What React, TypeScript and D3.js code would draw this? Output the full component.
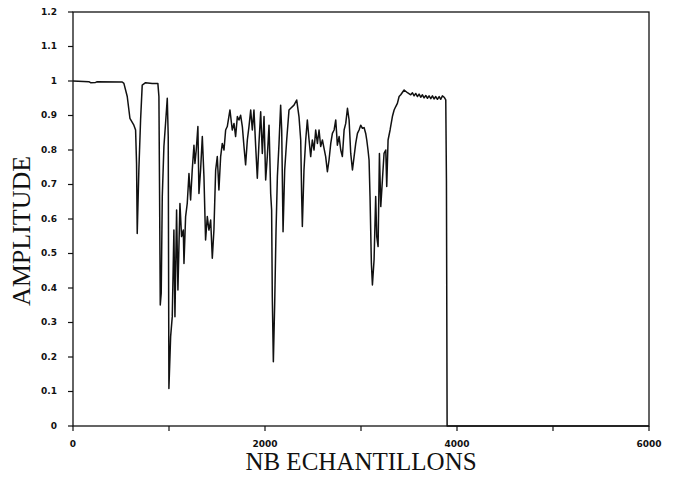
import * as d3 from "d3";

// sample index (NB ECHANTILLONS) and amplitude
const samples = [
  0, 165, 183, 235, 252, 513, 530, 565, 593, 634, 652, 662, 669, 686, 704, 721, 756, 825, 884,
  895, 902, 909, 919, 930, 947, 964, 982, 992, 999, 1017, 1034, 1051, 1062, 1079, 1093, 1114,
  1131, 1149, 1156, 1173, 1190, 1208, 1225, 1242, 1260, 1270, 1284, 1301, 1312, 1329, 1347,
  1364, 1381, 1399, 1416, 1434, 1451, 1468, 1486, 1503, 1520, 1538, 1555, 1573, 1590, 1607,
  1635, 1659, 1677, 1694, 1712, 1729, 1746, 1764, 1781, 1798, 1816, 1833, 1851, 1868, 1885,
  1903, 1920, 1937, 1955, 1972, 1990, 2007, 2024, 2042, 2052, 2059, 2069, 2076, 2087, 2101,
  2115, 2129, 2146, 2163, 2174, 2188, 2205, 2226, 2250, 2268, 2302, 2330, 2354, 2372, 2382,
  2389, 2406, 2424, 2441, 2459, 2476, 2493, 2511, 2528, 2546, 2563, 2580, 2598, 2615, 2632,
  2650, 2667, 2685, 2702, 2720, 2737, 2754, 2772, 2789, 2806, 2824, 2841, 2859, 2876, 2893,
  2911, 2928, 2945, 2963, 2980, 2997, 3015, 3032, 3049, 3060, 3073, 3084, 3094, 3108, 3119,
  3136, 3153, 3164, 3178, 3192, 3206, 3223, 3240, 3258, 3268, 3282, 3303, 3327, 3345, 3362,
  3379, 3397, 3414, 3449, 3484, 3518, 3536, 3553, 3570, 3588, 3605, 3622, 3640, 3657, 3675,
  3692, 3709, 3727, 3744, 3761, 3779, 3796, 3814, 3831, 3848, 3866, 3883, 3890, 3897, 4200,
  6000,
];

const amplitude = [
  1.0, 0.998, 0.995, 0.996, 0.998, 0.997, 0.993, 0.955, 0.892, 0.872, 0.858, 0.761, 0.558,
  0.742, 0.887, 0.988, 0.995, 0.993, 0.993, 0.955, 0.665, 0.351, 0.385, 0.665, 0.81, 0.877,
  0.95, 0.839, 0.109, 0.259, 0.317, 0.568, 0.317, 0.626, 0.394, 0.645, 0.549, 0.568, 0.471,
  0.607, 0.645, 0.732, 0.655, 0.742, 0.814, 0.761, 0.8, 0.868, 0.674, 0.742, 0.839, 0.723,
  0.539, 0.607, 0.568, 0.597, 0.486, 0.568, 0.742, 0.781, 0.684, 0.781, 0.819, 0.8, 0.858,
  0.868, 0.916, 0.858, 0.877, 0.839, 0.897, 0.887, 0.901, 0.868, 0.81, 0.757, 0.829, 0.868,
  0.916, 0.858, 0.916, 0.81, 0.718, 0.819, 0.911, 0.79, 0.897, 0.713, 0.781, 0.872, 0.761,
  0.674, 0.626, 0.375, 0.186, 0.356, 0.568, 0.723, 0.819, 0.93, 0.858, 0.563, 0.742, 0.829,
  0.916, 0.921, 0.93, 0.945, 0.897, 0.829, 0.665, 0.578, 0.742, 0.829, 0.887, 0.829, 0.781,
  0.829, 0.8, 0.858, 0.819, 0.858, 0.81, 0.829, 0.805, 0.781, 0.737, 0.771, 0.819, 0.848,
  0.858, 0.887, 0.814, 0.839, 0.8, 0.781, 0.858, 0.877, 0.921, 0.887, 0.79, 0.742, 0.781,
  0.819, 0.848, 0.858, 0.872, 0.863, 0.865, 0.848, 0.829, 0.8, 0.771, 0.665, 0.472, 0.409,
  0.481, 0.665, 0.549, 0.52, 0.79, 0.636, 0.713, 0.79, 0.8, 0.694, 0.829, 0.858, 0.897,
  0.916, 0.926, 0.935, 0.955, 0.96, 0.974, 0.966, 0.96, 0.966, 0.957, 0.964, 0.955, 0.962,
  0.953, 0.96, 0.951, 0.958, 0.95, 0.957, 0.949, 0.957, 0.948, 0.955, 0.947, 0.955, 0.947,
  0.957, 0.953, 0.945, 0.71, 0, 0, 0,
];

const xTickMarks = [0, 1000, 2000, 3000, 4000, 5000, 6000];
const xTickLabels = [0, 2000, 4000, 6000];
const yTicks = [0, 0.1, 0.2, 0.3, 0.4, 0.5, 0.6, 0.7, 0.8, 0.9, 1, 1.1, 1.2];

export default function App() {
  const width = 674;
  const height = 478;
  const left = 73;
  const right = 649;
  const top = 12;
  const bottom = 426;

  const x = d3.scaleLinear().domain([0, 6000]).range([left, right]);
  const y = d3.scaleLinear().domain([0, 1.2]).range([bottom, top]);

  const points = samples.map((s, i) => [s, amplitude[i]] as [number, number]);
  const line = d3
    .line<[number, number]>()
    .x((d) => x(d[0]))
    .y((d) => y(d[1]));

  const tickFont = "'DejaVu Sans', sans-serif";
  const titleFont = "'Liberation Serif', 'Times New Roman', serif";

  return (
    <svg
      width={width}
      height={height}
      style={{ position: "absolute", left: 0, top: 0, background: "#fff" }}
    >
      <rect x={0} y={0} width={width} height={height} fill="#fff" />

      {/* frame */}
      <rect
        x={left}
        y={top}
        width={right - left}
        height={bottom - top}
        fill="none"
        stroke="#111"
        strokeWidth={1.3}
      />

      {yTicks.map((t) => (
        <g key={`y-${t}`}>
          <line x1={left - 5} x2={left} y1={y(t)} y2={y(t)} stroke="#111" strokeWidth={1.2} />
          <text
            x={left - 16}
            y={y(t)}
            textAnchor="end"
            dominantBaseline="middle"
            fontFamily={tickFont}
            fontWeight="bold"
            fontSize={9}
            fill="#111"
          >
            {t === 0 || t === 1 ? String(t) : t.toFixed(1)}
          </text>
        </g>
      ))}

      {xTickMarks.map((t) => (
        <line
          key={`xm-${t}`}
          x1={x(t)}
          x2={x(t)}
          y1={bottom}
          y2={bottom + 5}
          stroke="#111"
          strokeWidth={1.2}
        />
      ))}
      {xTickLabels.map((t) => (
        <text
          key={`xl-${t}`}
          x={x(t)}
          y={bottom + 18}
          textAnchor="middle"
          dominantBaseline="middle"
          fontFamily={tickFont}
          fontWeight="bold"
          fontSize={9}
          fill="#111"
        >
          {t}
        </text>
      ))}

      <path
        d={line(points) ?? ""}
        fill="none"
        stroke="#111"
        strokeWidth={1.5}
        strokeLinejoin="round"
      />

      <text
        x={30}
        y={(top + bottom) / 2 + 12}
        transform={`rotate(-90, 30, ${(top + bottom) / 2 + 12})`}
        textAnchor="middle"
        fontFamily={titleFont}
        fontSize={26}
        fill="#111"
      >
        AMPLITUDE
      </text>
      <text
        x={(left + right) / 2}
        y={470}
        textAnchor="middle"
        fontFamily={titleFont}
        fontSize={25}
        fill="#111"
      >
        NB ECHANTILLONS
      </text>
    </svg>
  );
}
